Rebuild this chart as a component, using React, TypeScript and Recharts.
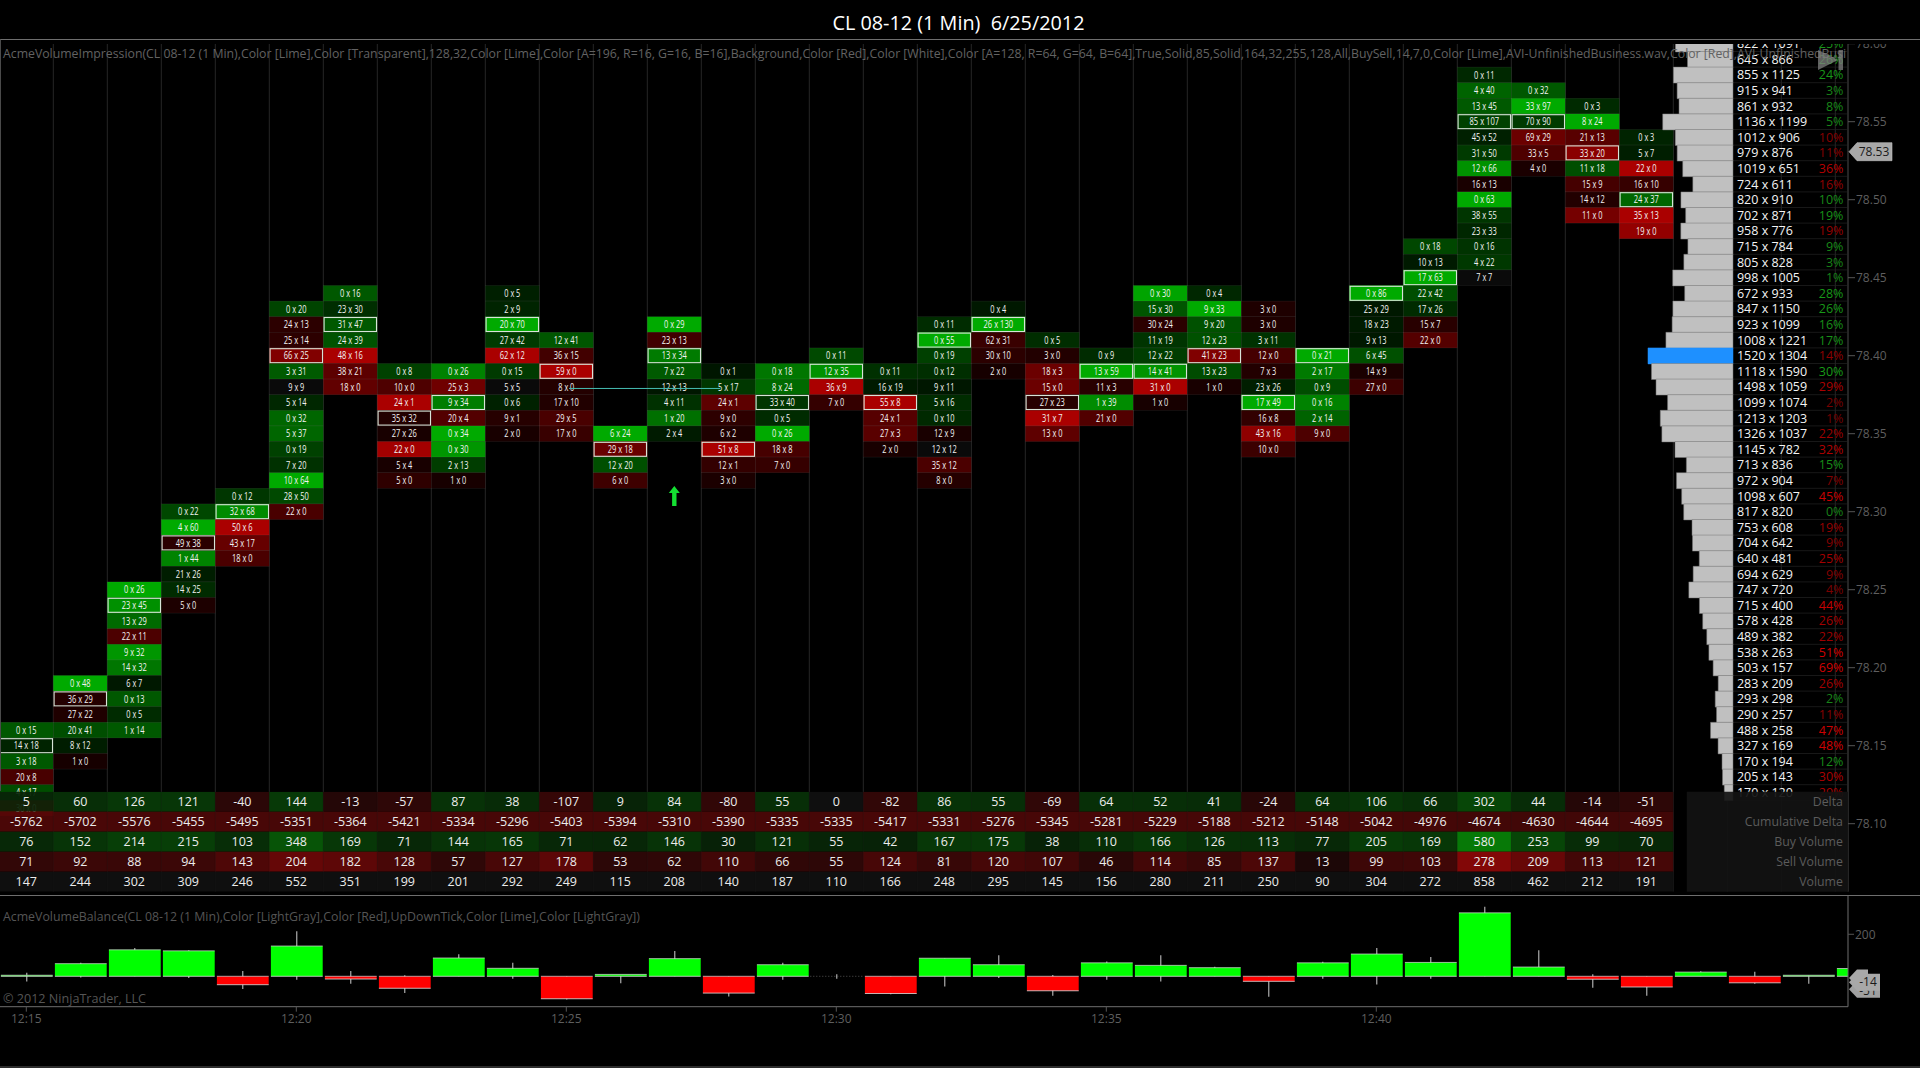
import React from "react";
import {
  ScatterChart, Scatter, ComposedChart, BarChart, Bar, Cell, XAxis, YAxis,
  ReferenceLine, ReferenceDot, ReferenceArea,
} from "recharts";

// ---------- data ----------
const columnTopPrices = [
  78.16, 78.19, 78.25, 78.30, 78.31, 78.43, 78.44, 78.39, 78.39, 78.44, 78.41,
  78.35, 78.42, 78.39, 78.39, 78.40, 78.39, 78.42, 78.43, 78.41, 78.40, 78.44,
  78.44, 78.43, 78.40, 78.44, 78.47, 78.58, 78.57, 78.56, 78.54,
];
const columnCells = [
  "0x15 14x18 3x18 20x8 4x17 30x0",
  "0x48 36x29 27x22 20x41 8x12 1x0",
  "0x26 23x45 13x29 22x11 9x32 14x32 6x7 0x13 0x5 1x14",
  "0x22 4x60 49x38 1x44 21x26 14x25 5x0",
  "0x12 32x68 50x6 43x17 18x0",
  "0x20 24x13 25x14 66x25 3x31 9x9 5x14 0x32 5x37 0x19 7x20 10x64 28x50 22x0",
  "0x16 23x30 31x47 24x39 48x16 38x21 18x0",
  "0x8 10x0 24x1 35x32 27x26 22x0 5x4 5x0",
  "0x26 25x3 9x34 20x4 0x34 0x30 2x13 1x0",
  "0x5 2x9 20x70 27x42 62x12 0x15 5x5 0x6 9x1 2x0",
  "12x41 36x15 59x0 8x0 17x10 29x5 17x0",
  "6x24 29x18 12x20 6x0",
  "0x29 23x13 13x34 7x22 12x13 4x11 1x20 2x4",
  "0x1 5x17 24x1 9x0 6x2 51x8 12x1 3x0",
  "0x18 8x24 33x40 0x5 0x26 18x8 7x0",
  "0x11 12x35 36x9 7x0",
  "0x11 16x19 55x8 24x1 27x3 2x0",
  "0x11 0x55 0x19 0x12 9x11 5x16 0x10 12x9 12x12 35x12 8x0",
  "0x4 26x130 62x31 30x10 2x0",
  "0x5 3x0 18x3 15x0 27x23 31x7 13x0",
  "0x9 13x59 11x3 1x39 21x0",
  "0x30 15x30 30x24 11x19 12x22 14x41 31x0 1x0",
  "0x4 9x33 9x20 12x23 41x23 13x23 1x0",
  "3x0 3x0 3x11 12x0 7x3 23x26 17x49 16x8 43x16 10x0",
  "0x21 2x17 0x9 0x16 2x14 9x0",
  "0x86 25x29 18x23 9x13 6x45 14x9 27x0",
  "0x18 10x13 17x63 22x42 17x26 15x7 22x0",
  "0x11 4x40 13x45 85x107 45x52 31x50 12x66 16x13 0x63 38x55 23x33 0x16 4x22 7x7",
  "0x32 33x97 70x90 69x29 33x5 4x0",
  "0x3 8x24 21x13 33x20 11x18 15x9 14x12 11x0",
  "0x3 5x7 22x0 16x10 24x37 35x13 19x0",
];
const deltaValues = [5, 60, 126, 121, -40, 144, -13, -57, 87, 38, -107, 9, 84, -80, 55, 0, -82, 86, 55, -69, 64, 52, 41, -24, 64, 106, 66, 302, 44, -14, -51];
const cumulativeDelta = [-5762, -5702, -5576, -5455, -5495, -5351, -5364, -5421, -5334, -5296, -5403, -5394, -5310, -5390, -5335, -5335, -5417, -5331, -5276, -5345, -5281, -5229, -5188, -5212, -5148, -5042, -4976, -4674, -4630, -4644, -4695];
const buyVolume = [76, 152, 214, 215, 103, 348, 169, 71, 144, 165, 71, 62, 146, 30, 121, 55, 42, 167, 175, 38, 110, 166, 126, 113, 77, 205, 169, 580, 253, 99, 70];
const sellVolume = [71, 92, 88, 94, 143, 204, 182, 128, 57, 127, 178, 53, 62, 110, 66, 55, 124, 81, 120, 107, 46, 114, 85, 137, 13, 99, 103, 278, 209, 113, 121];
const totalVolume = [147, 244, 302, 309, 246, 552, 351, 199, 201, 292, 249, 115, 208, 140, 187, 110, 166, 248, 295, 145, 156, 280, 211, 250, 90, 304, 272, 858, 462, 212, 191];
const tableRowNames = ["Delta", "Cumulative Delta", "Buy Volume", "Sell Volume", "Volume"];

const profileTopPrice = 78.60;
const profileBid = [822, 645, 855, 915, 861, 1136, 1012, 979, 1019, 724, 820, 702, 958, 715, 805, 998, 672, 847, 923, 1008, 1520, 1118, 1498, 1099, 1213, 1326, 1145, 713, 972, 1098, 817, 753, 704, 640, 694, 747, 715, 578, 489, 538, 503, 283, 293, 290, 488, 327, 170, 205, 170];
const profileAsk = [1091, 866, 1125, 941, 932, 1199, 906, 876, 651, 611, 910, 871, 776, 784, 828, 1005, 933, 1150, 1099, 1221, 1304, 1590, 1059, 1074, 1203, 1037, 782, 836, 904, 607, 820, 608, 642, 481, 629, 720, 400, 428, 382, 263, 157, 209, 298, 257, 258, 169, 194, 143, 120];

// the lower panel runs four bars further than the table
const balanceDelta = [...deltaValues, 20, -31, 5, 37];
const balanceHigh = [17, 64, 135, 124, 25, 214, 25, 5, 105, 64, 0, 6, 120, 0, 64, 10, 0, 86, 100, 6, 70, 100, 45, 0, 69, 135, 92, 331, 124, 10, 0, 24, 22, 5, 37];
const balanceLow = [-25, -6, 0, -8, -60, -17, -36, -80, 0, -12, -110, -33, 0, -96, -17, -12, -86, -49, -8, -93, -17, -25, 0, -97, -12, -39, -12, 0, 0, -55, -93, 0, -35, -36, 0];

const yTicks = [78.6, 78.55, 78.5, 78.45, 78.4, 78.35, 78.3, 78.25, 78.2, 78.15, 78.1];
const timeTicks = [0, 5, 10, 15, 20, 25];
const timeLabels = ["12:15", "12:20", "12:25", "12:30", "12:35", "12:40"];
const lastPrice = 78.53;
const unfinishedArrow = [{ col: 12, price: 78.31 }];
const unfinishedLevel = [{ col: 10.05, price: 78.379 }, { col: 12.85, price: 78.379 }];

const chartTitle = "CL 08-12 (1 Min)  6/25/2012";
const impressionLabel = "AcmeVolumeImpression(CL 08-12 (1 Min),Color [Lime],Color [Transparent],128,32,Color [Lime],Color [A=196, R=16, G=16, B=16],Background,Color [Red],Color [White],Color [A=128, R=64, G=64, B=64],True,Solid,85,Solid,164,32,255,128,All,BuySell,14,7,0,Color [Lime],AVI-UnfinishedBusiness.wav,Color [Red],AVI-UnfinishedBusi";
const balanceLabel = "AcmeVolumeBalance(CL 08-12 (1 Min),Color [LightGray],Color [Red],UpDownTick,Color [Lime],Color [LightGray])";
const copyright = "© 2012 NinjaTrader, LLC";

// ---------- derived tables ----------
const footprint: any[] = [];
columnCells.forEach((s, col) => {
  const parsed = s.split(" ").map((c) => c.split("x").map(Number));
  const maxDelta = Math.max(...parsed.map(([a, b]) => Math.abs(a - b)));
  const maxVol = Math.max(...parsed.map(([a, b]) => a + b));
  parsed.forEach(([sell, buy], i) => {
    footprint.push({
      col, price: columnTopPrices[col] - i * 0.01, sell, buy,
      heat: maxDelta ? Math.abs(buy - sell) / maxDelta : 0,
      poc: sell + buy === maxVol,
    });
  });
});
const profileRows = profileBid.map((bid, i) => ({
  price: +(profileTopPrice - i * 0.01).toFixed(2),
  bid, ask: profileAsk[i], total: bid + profileAsk[i],
}));
const profileMax = Math.max(...profileRows.map((r) => r.total));
const profileLabelCol = 31.66;
const profileLabels = profileRows.map((r) => ({ ...r, col: profileLabelCol }));

const tableSeries = [deltaValues, cumulativeDelta, buyVolume, sellVolume, totalVolume];
const tableCells: any[] = [];
tableSeries.forEach((vals, row) => vals.forEach((v, col) => tableCells.push({ col, row, v })));
const tableLegend = tableRowNames.map((name, row) => ({ name, row, col: 33.64 }));
const balanceData = balanceDelta.map((delta, col) => ({
  col, delta, wick: [balanceLow[col], balanceHigh[col]],
}));

// ---------- layout / style ----------
const XDOMAIN = [-0.487, 33.735];
const MAIN_TOP = 43.5;
const MAIN_BOTTOM = 891.7;
const PRICE_DOMAIN = [78.60013, 78.05641];
const COL_W = 54;
const ROW_H = 15.6;
const FONT = "'Open Sans', 'Noto Sans', sans-serif";
const AXIS_TEXT = "#5e5e5e";
const LINE = "#6e6e6e";

const cellFill = (d: any) => {
  const diff = d.buy - d.sell;
  if (diff === 0) return "#0a0a0a";
  const c = Math.round(20 + 150 * Math.pow(d.heat, 1.15));
  return diff > 0 ? `rgb(0,${c},0)` : `rgb(${c},0,0)`;
};

const FootprintCell = (p: any) => {
  const { cx, cy, payload: d } = p;
  const x = cx - COL_W / 2;
  const y = cy - ROW_H / 2;
  const label = `${d.sell} x ${d.buy}`;
  const digits = `${d.sell}${d.buy}`.length;
  return (
    <g>
      <rect x={x} y={y} width={COL_W} height={ROW_H} fill={cellFill(d)} stroke="rgba(255,255,255,0.09)" strokeWidth={0.6} />
      {d.poc && (
        <rect x={x + 0.8} y={y + 0.8} width={COL_W - 1.6} height={ROW_H - 1.6} fill="none" stroke="#d8e4d8" strokeWidth={1.1} />
      )}
      <text x={cx} y={cy + 3.6} textAnchor="middle" fontFamily={FONT} fontSize={10} fill="#f2f2f2"
        textLength={digits * 4.5 + 7} lengthAdjust="spacingAndGlyphs">{label}</text>
    </g>
  );
};

const ProfileLabel = (p: any) => {
  const { cx, cy, payload: d } = p;
  const pct = Math.round((Math.abs(d.ask - d.bid) / Math.max(d.ask, d.bid)) * 100);
  const t = Math.min(1, pct / 50);
  const color = d.ask >= d.bid ? `rgb(24,${Math.round(130 + 40 * t)},24)` : `rgb(${Math.round(115 + 95 * t)},0,0)`;
  return (
    <g fontFamily={FONT} fontSize={12.5}>
      <line x1={cx - 3} x2={cx + 111} y1={cy + ROW_H / 2} y2={cy + ROW_H / 2} stroke="#222222" strokeWidth={0.7} />
      <text x={cx + 1} y={cy + 4.5} fill="#f4f4f4">{`${d.bid} x ${d.ask}`}</text>
      <text x={cx + 107.5} y={cy + 4.5} fill={color} textAnchor="end">{`${pct}%`}</text>
    </g>
  );
};

const ArrowMark = (p: any) => {
  const { cx, cy } = p;
  return (
    <path d={`M${cx} ${cy - 10} L${cx + 5.5} ${cy - 3} L${cx + 2.2} ${cy - 3} L${cx + 2.2} ${cy + 10} L${cx - 2.2} ${cy + 10} L${cx - 2.2} ${cy - 3} L${cx - 5.5} ${cy - 3} Z`} fill="#14e032" />
  );
};

const NoPoint = () => <g />;

const PriceTag = (p: any) => {
  const { cx, cy } = p;
  const x = cx + 1;
  const y = cy - 1.2;
  return (
    <g>
      <path d={`M${x} ${y} L${x + 8} ${y - 9} L${x + 43} ${y - 9} L${x + 43} ${y + 9} L${x + 8} ${y + 9} Z`} fill="#a8a8a8" stroke="#c4c4c4" strokeWidth={0.6} />
      <text x={x + 25} y={y + 4.5} textAnchor="middle" fontFamily={FONT} fontSize={12} fill="#1a1a1a">78.53</text>
    </g>
  );
};

const tableFill = (row: number, v: number) => {
  const rgb = (c: number, green: boolean) => {
    const n = Math.round(c);
    return green ? `rgb(8,${n},8)` : `rgb(${n},8,8)`;
  };
  if (row === 0) {
    if (v === 0) return "rgb(16,16,16)";
    return rgb(30 + 45 * Math.sqrt(Math.abs(v) / 302), v > 0);
  }
  if (row === 1) return rgb(30 + 50 * (Math.abs(v) / 5762), false);
  if (row === 2) return rgb(30 + 100 * (v / 580), true);
  if (row === 3) return rgb(25 + 115 * (v / 278), false);
  return "rgb(16,16,16)";
};

const TableCell = (p: any) => {
  const { cx, cy, payload: d } = p;
  return (
    <g>
      <rect x={cx - COL_W / 2} y={cy - 10} width={COL_W} height={20} fill={tableFill(d.row, d.v)} fillOpacity={0.93} />
      <line x1={cx + COL_W / 2} x2={cx + COL_W / 2} y1={cy - 10} y2={cy + 10} stroke="#000000" strokeOpacity={0.35} strokeWidth={0.6} />
      <text x={cx} y={cy + 4.4} textAnchor="middle" fontFamily={FONT} fontSize={12.5} fill="#ececec">{d.v}</text>
    </g>
  );
};

const LegendLabel = (p: any) => {
  const { cx, cy, payload: d } = p;
  return <text x={cx} y={cy + 4.4} textAnchor="end" fontFamily={FONT} fontSize={12.3} fill="#5c5c5c">{d.name}</text>;
};

const BalanceBar = (p: any) => {
  const { x, y, width, height, payload } = p;
  const top = Math.min(y, y + height);
  const h = Math.abs(height);
  if (payload.delta === 0) {
    return <line x1={x} x2={x + width} y1={top} y2={top} stroke="#555555" strokeDasharray="1 2" />;
  }
  const fill = payload.delta > 0 ? "#00ff00" : "#ff0000";
  return (
    <g>
      <rect x={x + 0.6} y={top} width={width - 1.2} height={h} fill={fill} />
      <line x1={x + 0.6} x2={x + width - 0.6} y1={top} y2={top} stroke="#dcdcdc" strokeOpacity={0.7} />
      <line x1={x + 0.6} x2={x + width - 0.6} y1={top + h} y2={top + h} stroke="#dcdcdc" strokeOpacity={0.8} />
    </g>
  );
};

const BalanceTags = (p: any) => {
  const { cx, cy } = p;
  const x = cx + 1;
  const tag = (y: number, w: number) =>
    `M${x} ${y} L${x + 8} ${y - 8.5} L${x + w} ${y - 8.5} L${x + w} ${y + 8.5} L${x + 8} ${y + 8.5} Z`;
  return (
    <g fontFamily={FONT} fontSize={12} fill="#1a1a1a" textAnchor="middle">
      <path d={tag(cy + 10, 31)} fill="#a0a0a0" />
      <text x={x + 19} y={cy + 16}>-51</text>
      <path d={tag(cy - 1.3, 19)} fill="#a8a8a8" />
      <path d={tag(cy + 2.9, 31)} fill="#a8a8a8" />
      <text x={x + 19} y={cy + 7}>-14</text>
    </g>
  );
};

const layer: React.CSSProperties = { position: "absolute", left: 0, top: 0 };
const clipLayer: React.CSSProperties = {
  position: "absolute", left: 0, top: 44, width: 1920, height: MAIN_BOTTOM - 44, overflow: "hidden",
};
const innerLayer: React.CSSProperties = { position: "absolute", left: 0, top: -44 };
const gridCols = Array.from({ length: 35 }, (_, i) => i - 0.5);

export default function App() {
  return (
    <div style={{ position: "absolute", left: 0, top: 0, width: 1920, height: 1068, background: "#000", overflow: "hidden" }}>
      {/* footprint cells, price axis, profile labels */}
      <div style={clipLayer}>
        <div style={innerLayer}>
          <ScatterChart width={1920} height={1068} margin={{ top: MAIN_TOP, right: 0, bottom: 1068 - MAIN_BOTTOM, left: 0 }}>
            <XAxis type="number" dataKey="col" domain={XDOMAIN} allowDataOverflow hide />
            <YAxis type="number" dataKey="price" domain={[PRICE_DOMAIN[1], PRICE_DOMAIN[0]]} allowDataOverflow
              orientation="right" width={72} ticks={yTicks} interval={0}
              tickFormatter={(v: number) => v.toFixed(2)} tickSize={7} tickMargin={1}
              axisLine={{ stroke: "#4a4a4a" }} tickLine={{ stroke: "#555555" }}
              tick={{ fill: AXIS_TEXT, fontSize: 12, fontFamily: FONT }} />
            {gridCols.map((c) => (
              <ReferenceLine key={c} x={c} stroke="#262626" strokeWidth={1} ifOverflow="hidden" />
            ))}
            <Scatter data={footprint} shape={FootprintCell} isAnimationActive={false} />
            <Scatter data={profileLabels} shape={ProfileLabel} isAnimationActive={false} />
            <Scatter data={unfinishedArrow} shape={ArrowMark} isAnimationActive={false} />
            <Scatter data={unfinishedLevel} shape={NoPoint} line={{ stroke: "#46bdb2", strokeWidth: 1 }} isAnimationActive={false} />
            <ReferenceDot x={XDOMAIN[1]} y={lastPrice} ifOverflow="visible" shape={PriceTag} />
          </ScatterChart>
        </div>
      </div>

      {/* volume profile */}
      <div style={clipLayer}>
        <div style={innerLayer}>
          <BarChart width={1920} height={1068} layout="vertical" data={profileRows} barCategoryGap={0}
            margin={{ top: 35.9, right: 187, bottom: 267.7, left: 1633 }}>
            <XAxis type="number" domain={[0, 3322]} reversed hide />
            <YAxis type="category" dataKey="price" hide />
            <Bar dataKey="total" isAnimationActive={false} stroke="#777777" strokeWidth={0.5}>
              {profileRows.map((r) => (
                <Cell key={r.price} fill={r.total === profileMax ? "#1e90ff" : "#c0c0c0"} stroke={r.total === profileMax ? "#1e90ff" : "#777777"} />
              ))}
            </Bar>
          </BarChart>
        </div>
      </div>

      {/* per-bar table */}
      <div style={layer}>
        <ScatterChart width={1920} height={1068} margin={{ top: MAIN_BOTTOM - 100, right: 72, bottom: 1068 - MAIN_BOTTOM, left: 0 }}>
          <XAxis type="number" dataKey="col" domain={XDOMAIN} allowDataOverflow hide />
          <YAxis type="number" dataKey="row" domain={[-0.5, 4.5]} reversed allowDataOverflow hide />
          <Scatter data={tableCells} shape={TableCell} isAnimationActive={false} />
          <ReferenceArea x1={30.75} x2={XDOMAIN[1]} y1={-0.5} y2={4.5} fill="#121212" fillOpacity={0.93} stroke="none" />
          <Scatter data={tableLegend} shape={LegendLabel} isAnimationActive={false} />
        </ScatterChart>
      </div>

      {/* volume balance panel */}
      <div style={layer}>
        <ComposedChart width={1920} height={1068} data={balanceData} margin={{ top: 895, right: 0, bottom: 0, left: 0 }}>
          <XAxis xAxisId="w" type="number" dataKey="col" domain={XDOMAIN} allowDataOverflow hide />
          <XAxis xAxisId="b" type="number" dataKey="col" domain={XDOMAIN} allowDataOverflow
            height={61.3} ticks={timeTicks} interval={0} tickSize={5} tickMargin={3}
            tickFormatter={(v: number) => timeLabels[timeTicks.indexOf(v)]}
            axisLine={{ stroke: LINE }} tickLine={{ stroke: "#555555" }}
            tick={{ fill: AXIS_TEXT, fontSize: 12, fontFamily: FONT }} />
          <YAxis type="number" domain={[-144.8, 387]} allowDataOverflow orientation="right" width={72}
            ticks={[200]} interval={0} tickSize={6} tickMargin={1}
            axisLine={{ stroke: LINE }} tickLine={{ stroke: "#555555" }}
            tick={{ fill: AXIS_TEXT, fontSize: 12, fontFamily: FONT }} />
          <Bar xAxisId="w" dataKey="wick" barSize={1} fill="#d0d0d0" isAnimationActive={false} />
          <Bar xAxisId="b" dataKey="delta" barSize={53} shape={BalanceBar} isAnimationActive={false} />
          <ReferenceDot xAxisId="b" x={XDOMAIN[1]} y={-14} ifOverflow="visible" shape={BalanceTags} />
        </ComposedChart>
      </div>

      {/* frame, captions */}
      <svg width={1920} height={1068} style={layer}>
        <line x1={0} x2={1920} y1={39.5} y2={39.5} stroke={LINE} />
        <line x1={0} x2={1920} y1={895.5} y2={895.5} stroke={LINE} />
        <line x1={0} x2={1920} y1={1067} y2={1067} stroke="#5a5a5a" />
        <line x1={0.5} x2={0.5} y1={39.5} y2={791} stroke="#4a4a4a" />
        <text x={832.5} y={29.5} fontFamily={FONT} fontSize={19.5} fill="#ffffff" textLength={252} lengthAdjust="spacingAndGlyphs" xmlSpace="preserve">{chartTitle}</text>
        <text x={3} y={57.5} fontFamily={FONT} fontSize={12} fill="#626262" textLength={1843} lengthAdjust="spacingAndGlyphs">{impressionLabel}</text>
        <text x={3} y={920.5} fontFamily={FONT} fontSize={12} fill="#555555" textLength={637} lengthAdjust="spacingAndGlyphs">{balanceLabel}</text>
        <text x={3} y={1002.5} fontFamily={FONT} fontSize={12} fill="#555555" textLength={143} lengthAdjust="spacingAndGlyphs">{copyright}</text>
        <path d="M1818 50 L1838 60 L1818 70 Z" fill="#808080" fillOpacity={0.75} />
        <rect x={1838.5} y={50} width={4.5} height={20} fill="#808080" fillOpacity={0.75} />
      </svg>
    </div>
  );
}
